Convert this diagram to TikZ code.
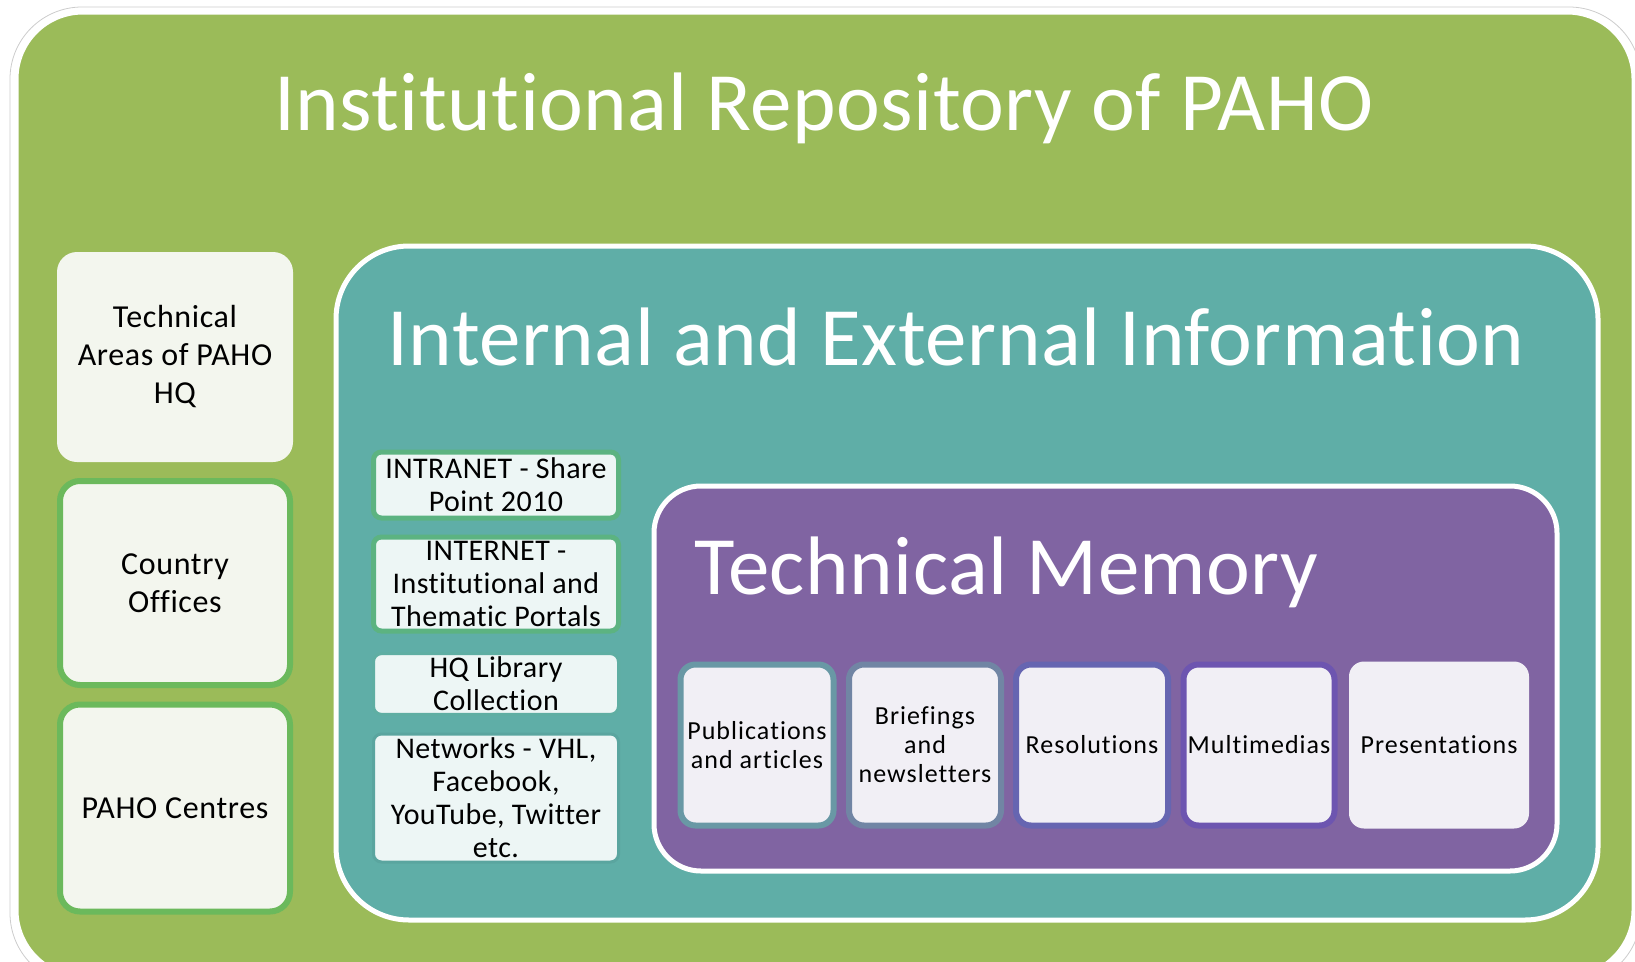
\documentclass[tikz,border=0pt]{standalone}
\usepackage{fontspec}
\setmainfont[Ligatures={NoCommon,NoRequired,NoContextual},Contextuals=NoAlternate]{Carlito}

\definecolor{repoGreen}{HTML}{9BBB59}
\definecolor{infoTeal}{HTML}{5FAEA7}
\definecolor{memPurple}{HTML}{8064A2}
\definecolor{areaFill}{HTML}{F3F6EE}
\definecolor{areaEdge}{HTML}{6BB95C}
\definecolor{chanFill}{HTML}{EDF6F5}
\definecolor{chanEdge}{HTML}{5CB381}
\definecolor{docFill}{HTML}{F1EFF5}

\begin{document}
\begin{tikzpicture}[x=1pt,y=-1pt]

  \tikzstyle{area}=[shape=rectangle,rounded corners=20pt,fill=areaFill,minimum width=236pt,align=center,font=\fontsize{32}{38}\selectfont\addfontfeatures{LetterSpace=2}]

  \tikzstyle{areaEdged}=[area,draw=areaEdge,line width=6pt,minimum width=230pt]

  \tikzstyle{chan}=[shape=rectangle,rounded corners=8pt,fill=chanFill,minimum width=245pt,align=center,font=\fontsize{30}{33}\selectfont\addfontfeatures{LetterSpace=1.5}]

  \tikzstyle{doc}=[shape=rectangle,rounded corners=15pt,fill=docFill,minimum height=161pt,align=center,font=\fontsize{26}{29}\selectfont\addfontfeatures{LetterSpace=4}]

  \tikzstyle{heading}=[anchor=base west,text=white,font=\fontsize{83}{90}\selectfont\addfontfeatures{LetterSpace=0.6}]

\clip (0,0) rectangle (1635,961);

%% outer frames
\draw[gray!40, line width=0.8pt, rounded corners=72pt] (10,7) rectangle (1641,985);
\draw[fill=repoGreen, draw=white, line width=3pt, rounded corners=66pt] (17,13) rectangle (1633,976);
\draw[fill=infoTeal, draw=white, line width=5pt, rounded corners=73pt] (336,246) rectangle (1598,920);
\draw[fill=memPurple, draw=white, line width=5pt, rounded corners=47pt] (654,486) rectangle (1557,871);

%% headings
\node (repo) [heading, anchor=base] at (824,130) {Institutional Repository of PAHO};
\node (info) [heading] at (384,365) {Internal and External Information};
\node (memory) [heading] at (691,594) {Technical Memory};

%% left column
\node (areas)[area, minimum height=210pt] at (175,357) {Technical\\Areas of PAHO\\HQ};
\node (offices)[areaEdged, minimum height=204pt] at (175,583) {Country\\Offices};
\node (centres)[areaEdged, minimum height=207pt] at (175,808) {PAHO Centres};

%% channels
\node (intranet)[chan, draw=chanEdge, line width=5pt, minimum height=66pt] at (496,485) {INTRANET - Share\\Point 2010};
\node (internet)[chan, draw=chanEdge, line width=5pt, minimum height=94pt] at (496,584) {INTERNET -\\Institutional and\\Thematic Portals};
\node (library)[chan, draw=infoTeal!90!chanEdge, line width=3pt, minimum height=60pt] at (496,684) {HQ Library\\Collection};
\node (networks)[chan, draw=infoTeal!95!black, line width=3pt, minimum height=128pt] at (496,798) {Networks - VHL,\\Facebook,\\YouTube, Twitter\\etc.};

%% documents
\node (pubs)[doc, draw=infoTeal!70!memPurple, line width=6pt, minimum width=153pt, minimum height=161pt] at (757,745) {Publications\\and articles};
\node (briefs)[doc, draw=infoTeal!45!memPurple, line width=6pt, minimum width=152pt, minimum height=161pt] at (925,745) {Briefings\\and\\newsletters};
\node (resol)[doc, draw=infoTeal!25!memPurple!85!blue, line width=6pt, minimum width=152pt, minimum height=161pt] at (1092,745) {Resolutions};
\node (media)[doc, draw=memPurple!85!blue, line width=6pt, minimum width=151pt, minimum height=161pt] at (1259,745) {Multimedias};
\node (present)[doc, minimum width=180pt, minimum height=167pt] at (1439,745) {Presentations};

\end{tikzpicture}
\end{document}
